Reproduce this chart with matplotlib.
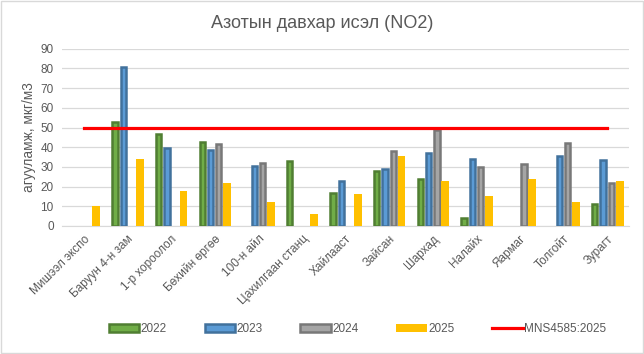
import numpy as np
import matplotlib
matplotlib.use("Agg")
import matplotlib.pyplot as plt
from matplotlib.patches import Rectangle

plt.rcParams['font.family'] = ['Liberation Sans', 'DejaVu Sans']

categories = ["Мишээл экспо", "Баруун 4-н зам", "1-р хороолол", "Бөхийн өргөө",
              "100-н айл", "Цахилгаан станц", "Хайлааст", "Зайсан", "Шархад",
              "Налайх", "Яармаг", "Толгойт", "Зурагт"]
v2022 = [np.nan, 53, 46.5, 42.5, np.nan, 33, 17, 28, 24, 4.2, np.nan, np.nan, 11]
v2023 = [np.nan, 80.5, 39.5, 38.5, 30.3, np.nan, 23, 29, 37, 34, np.nan, 35.5, 33.5]
v2024 = [np.nan, np.nan, np.nan, 41.5, 32, np.nan, np.nan, 38.2, 48.5, 30.2, 31.5, 42, 22]
v2025 = [10, 33.8, 18, 22, 12, 6, 16, 35.5, 23, 15, 24, 12, 23]
standard = [50] * len(categories)
series_names = ["2022", "2023", "2024", "2025"]
standard_name = "MNS4585:2025"

fills = ["#70AD47", "#5B9BD5", "#A5A5A5", "#FFC000"]
edges = ["#507E32", "#41719C", "#787878", None]

fig = plt.figure(figsize=(6.44, 3.54), dpi=100)
fig.patches.append(Rectangle((0.0015, 0.002), 0.997, 0.995, transform=fig.transFigure,
                             fill=False, edgecolor="#D9D9D9", linewidth=1.0))
ax = fig.add_axes([0.0963, 0.3616, 0.8804, 0.5008])

x = np.arange(len(categories))
step = 0.19
lw = 1.8
edge_w = lw * 100 / 72 / 43.6
handles = []
for i, (vals, name) in enumerate(zip([v2022, v2023, v2024, v2025], series_names)):
    pos = x + (i - 1.5) * step
    if edges[i] is not None:
        b = ax.bar(pos, vals, width=step - edge_w - 0.012, color=fills[i],
                   edgecolor=edges[i], linewidth=lw, label=name, zorder=3)
    else:
        b = ax.bar(pos, vals, width=step - 0.01, color=fills[i],
                   linewidth=0, label=name, zorder=3)
    handles.append(b)

line, = ax.plot(x, standard, color="#FF0000", linewidth=2.3, label=standard_name, zorder=4)
handles.append(line)

ax.set_xlim(-0.5, len(categories) - 0.5)
ax.set_ylim(0, 90)
ax.set_yticks(np.arange(0, 91, 10))
ax.grid(axis="y", color="#D9D9D9", linewidth=0.9, zorder=0)
ax.set_axisbelow(True)
for s in ["top", "right", "left"]:
    ax.spines[s].set_visible(False)
ax.spines["bottom"].set_color("#D9D9D9")
ax.tick_params(axis="both", length=0, colors="#595959", labelsize=8.5)
ax.tick_params(axis="y", pad=6)
ax.set_xticks(x)
ax.set_xticklabels(categories, rotation=45, ha="right", rotation_mode="anchor")
ax.tick_params(axis="x", pad=5)
ax.set_ylabel("агууламж, мкг/м3", color="#595959", fontsize=9.8, labelpad=3)

fig.text(0.5, 0.935, "Азотын давхар исэл (NO2)", ha="center", va="center",
         fontsize=13, color="#595959")

leg = fig.legend(handles=handles, labels=series_names + [standard_name], loc="center",
                 bbox_to_anchor=(0.555, 0.07), ncol=5, frameon=False, fontsize=8.5,
                 handlelength=2.6, handleheight=0.6, columnspacing=3.2, handletextpad=0.1)
for t in leg.get_texts():
    t.set_color("#595959")

fig.savefig("out.png", dpi=100)
